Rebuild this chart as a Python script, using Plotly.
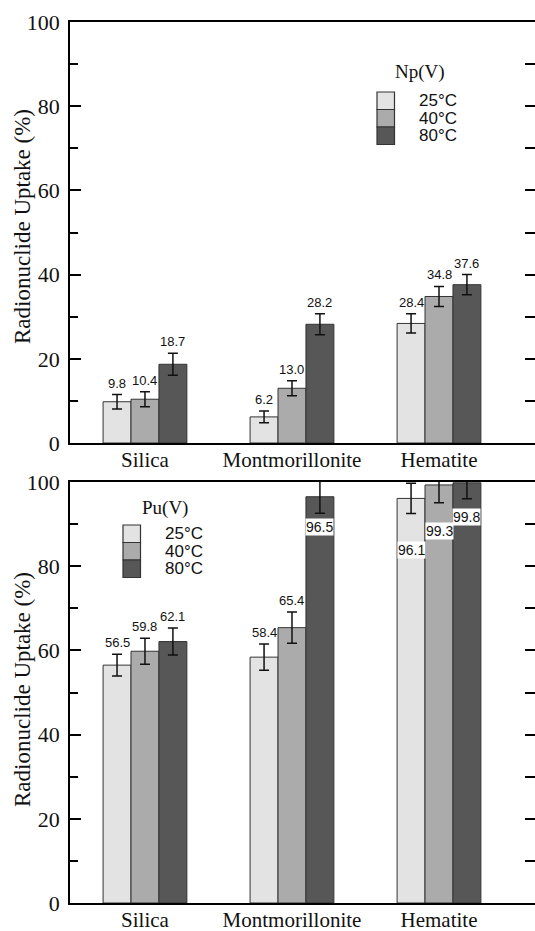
import plotly.graph_objects as go

# ---------------- data ----------------
categories = ["Silica", "Montmorillonite", "Hematite"]
temps = ["25°C", "40°C", "80°C"]

np_25 = [9.8, 6.2, 28.4]
np_40 = [10.4, 13.0, 34.8]
np_80 = [18.7, 28.2, 37.6]
np_25_err = [1.7, 1.4, 2.3]
np_40_err = [1.8, 1.8, 2.4]
np_80_err = [2.6, 2.5, 2.4]

pu_25 = [56.5, 58.4, 96.1]
pu_40 = [59.8, 65.4, 99.3]
pu_80 = [62.1, 96.5, 99.8]
pu_25_err = [2.6, 3.1, 3.6]
pu_40_err = [3.1, 3.7, 4.2]
pu_80_err = [3.2, 3.9, 3.8]

# labels drawn inside bars (white box) in the Pu panel: (series, category) -> drop below value
pu_inside_drop = {(2, 1): 7.2, (0, 2): 12.3, (1, 2): 10.9, (2, 2): 8.1}

# ---------------- style ----------------
W, H = 535, 931
ML, MR, MT, MB = 70, 0, 22, 28
PW = W - ML - MR
PH = H - MT - MB
colors = ["#e3e3e3", "#ababab", "#575757"]
outline = "#333333"
bw = 0.19
sans = "Liberation Sans"
serif = "Liberation Serif"
xr = [-0.51, 2.653]


def py(p):  # pixel y -> paper y
    return (H - MB - p) / PH


def px(p):  # pixel x -> paper x
    return (p - ML) / PW


top_dom = [py(443), 1.0]
bot_dom = [0.0, py(482)]

fig = go.Figure()

np_vals = [np_25, np_40, np_80]
np_errs = [np_25_err, np_40_err, np_80_err]
pu_vals = [pu_25, pu_40, pu_80]
pu_errs = [pu_25_err, pu_40_err, pu_80_err]
xs = list(range(len(categories)))

annotations = []

for panel, (vals, errs, ya) in enumerate([(np_vals, np_errs, "y"), (pu_vals, pu_errs, "y2")]):
    xa = "x" if panel == 0 else "x2"
    for j in range(3):
        fig.add_trace(go.Bar(
            x=xs, y=vals[j], width=bw, offset=-1.5 * bw + j * bw,
            marker=dict(color=colors[j], line=dict(color=outline, width=1)),
            error_y=dict(type="data", array=errs[j], visible=True,
                         color="#111111", thickness=1.5, width=5),
            xaxis=xa, yaxis=ya,
            showlegend=False, hoverinfo="skip",
        ))
        for i in xs:
            xc = i + (j - 1) * bw
            v = vals[j][i]
            e = errs[j][i]
            if panel == 1 and (j, i) in pu_inside_drop:
                annotations.append(dict(
                    x=xc, y=v - pu_inside_drop[(j, i)], xref=xa, yref=ya,
                    text=f"{v:.1f}", showarrow=False, yanchor="middle",
                    bgcolor="white", borderpad=0,
                    font=dict(family=sans, size=14, color="#111")))
            else:
                annotations.append(dict(
                    x=xc, y=v + e, xref=xa, yref=ya,
                    text=f"{v:.1f}", showarrow=False,
                    yanchor="bottom", yshift=2,
                    font=dict(family=sans, size=13, color="#111")))

# invisible traces for the right-side tick axes
fig.add_trace(go.Scatter(x=[0], y=[0], xaxis="x", yaxis="y3", mode="none",
                         showlegend=False, hoverinfo="skip"))
fig.add_trace(go.Scatter(x=[0], y=[0], xaxis="x2", yaxis="y4", mode="none",
                         showlegend=False, hoverinfo="skip"))


def xax(anchor):
    return dict(range=xr, tickvals=xs, ticktext=categories, ticks="",
                showline=True, linecolor="black", linewidth=1.5, mirror=True,
                showgrid=False, zeroline=False, anchor=anchor, automargin=False,
                tickfont=dict(family=serif, size=21, color="#111"),
                ticklabelstandoff=-3)


def yax(dom, anchor):
    return dict(range=[0, 100], tickvals=[0, 20, 40, 60, 80, 100], ticks="inside",
                ticklen=11, tickwidth=1.5, tickcolor="black",
                minor=dict(dtick=10, ticks="inside", ticklen=8, tickwidth=1.5, tickcolor="black"),
                showline=True, linecolor="black", linewidth=1.5,
                showgrid=False, zeroline=False, domain=dom, anchor=anchor,
                automargin=False,
                tickfont=dict(family=serif, size=22, color="#111"),
                ticklabelstandoff=4)


rcommon = dict(range=[0, 100], dtick=10, ticks="inside", ticklen=10, tickwidth=1.5,
               tickcolor="black", showticklabels=False, showline=False,
               showgrid=False, zeroline=False, side="right", automargin=False)

fig.update_layout(
    width=W, height=H,
    margin=dict(l=ML, r=MR, t=MT, b=MB, autoexpand=False),
    paper_bgcolor="white", plot_bgcolor="white",
    xaxis=xax("y"),
    yaxis=yax(top_dom, "x"),
    xaxis2=xax("y2"),
    yaxis2=yax(bot_dom, "x2"),
    yaxis3=dict(**rcommon, overlaying="y", anchor="x"),
    yaxis4=dict(**rcommon, overlaying="y2", anchor="x2"),
    showlegend=False,
)

# y axis titles
for yc in (227, 690):
    annotations.append(dict(x=px(22), y=py(yc), xref="paper", yref="paper",
                            text="Radionuclide Uptake (%)", textangle=-90,
                            showarrow=False, xanchor="center", yanchor="middle",
                            font=dict(family=serif, size=23, color="#111")))

# custom legends (title, title x, title y, swatch x, swatch top, text x) in pixels
shapes = []
legends = [("Np(V)", 420, 72, 377, 92, 417), ("Pu(V)", 165, 508, 123, 525, 163)]
sh = 17.5
for title, tx, ty, sx, sy, lx in legends:
    annotations.append(dict(x=px(tx), y=py(ty), xref="paper", yref="paper",
                            text=title, showarrow=False, xanchor="center", yanchor="middle",
                            font=dict(family=serif, size=19, color="#111")))
    for j in range(3):
        y0 = sy + j * sh
        shapes.append(dict(type="rect", xref="paper", yref="paper",
                           x0=px(sx), x1=px(sx + 17.5), y0=py(y0 + sh), y1=py(y0),
                           fillcolor=colors[j], line=dict(color="#333", width=1.2)))
        annotations.append(dict(x=px(lx), y=py(y0 + sh / 2), xref="paper", yref="paper",
                                text=temps[j], showarrow=False, xanchor="left",
                                yanchor="middle", height=17, valign="middle",
                                font=dict(family=sans, size=17, color="#111")))

fig.update_layout(annotations=annotations, shapes=shapes)
fig.write_html("out.html")
